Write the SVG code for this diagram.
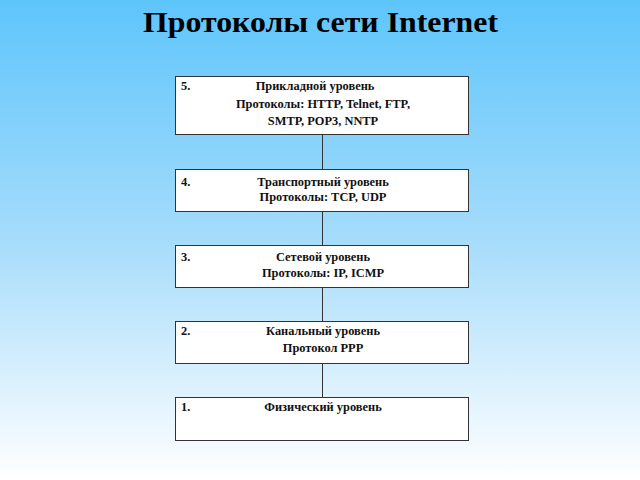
<svg xmlns="http://www.w3.org/2000/svg" width="640" height="480" viewBox="0 0 640 480">
<defs>
<linearGradient id="bg" x1="0" y1="0" x2="0" y2="1">
<stop offset="0" stop-color="#5ec5fb"/>
<stop offset="0.5" stop-color="#a6dcfb"/>
<stop offset="1" stop-color="#ffffff"/>
</linearGradient>
<style>
.box{fill:#ffffff;stroke:#333333;stroke-width:1}
.t{font-family:"Liberation Serif","Times New Roman",serif;font-weight:bold;font-size:12.4px;fill:#111111}
.c{text-anchor:middle}
.title{font-family:"Liberation Serif","Times New Roman",serif;font-weight:bold;font-size:30px;fill:#000000;text-anchor:middle}
.conn{stroke:#333333;stroke-width:1;fill:none}
</style>
</defs>
<rect x="0" y="0" width="640" height="480" fill="url(#bg)"/>
<text class="title" x="320.5" y="32" textLength="355" lengthAdjust="spacingAndGlyphs">Протоколы сети Internet</text>
<g id="connectors">
<line class="conn" x1="322.5" y1="134" x2="322.5" y2="169"/>
<line class="conn" x1="322.5" y1="211" x2="322.5" y2="245"/>
<line class="conn" x1="322.5" y1="287" x2="322.5" y2="321"/>
<line class="conn" x1="322.5" y1="363" x2="322.5" y2="397"/>
</g>
<g id="layer5">
<rect class="box" x="175.5" y="76.5" width="293" height="58"/>
<text class="t" x="181" y="90">5.</text>
<text class="t c" x="315" y="90">Прикладной уровень</text>
<text class="t c" x="323" y="107.5">Протоколы: HTTP, Telnet, FTP,</text>
<text class="t c" x="323" y="125">SMTP, POP3, NNTP</text>
</g>
<g id="layer4">
<rect class="box" x="175.5" y="169.5" width="293" height="42"/>
<text class="t" x="181" y="186">4.</text>
<text class="t c" x="323" y="186">Транспортный уровень</text>
<text class="t c" x="323" y="201">Протоколы: TCP, UDP</text>
</g>
<g id="layer3">
<rect class="box" x="175.5" y="245.5" width="293" height="42"/>
<text class="t" x="181" y="261">3.</text>
<text class="t c" x="323" y="261">Сетевой уровень</text>
<text class="t c" x="323" y="277">Протоколы: IP, ICMP</text>
</g>
<g id="layer2">
<rect class="box" x="175.5" y="321.5" width="293" height="42"/>
<text class="t" x="181" y="335">2.</text>
<text class="t c" x="323" y="335">Канальный уровень</text>
<text class="t c" x="323" y="352">Протокол PPP</text>
</g>
<g id="layer1">
<rect class="box" x="175.5" y="397.5" width="293" height="43"/>
<text class="t" x="181" y="411">1.</text>
<text class="t c" x="323" y="411">Физический уровень</text>
</g>
</svg>
